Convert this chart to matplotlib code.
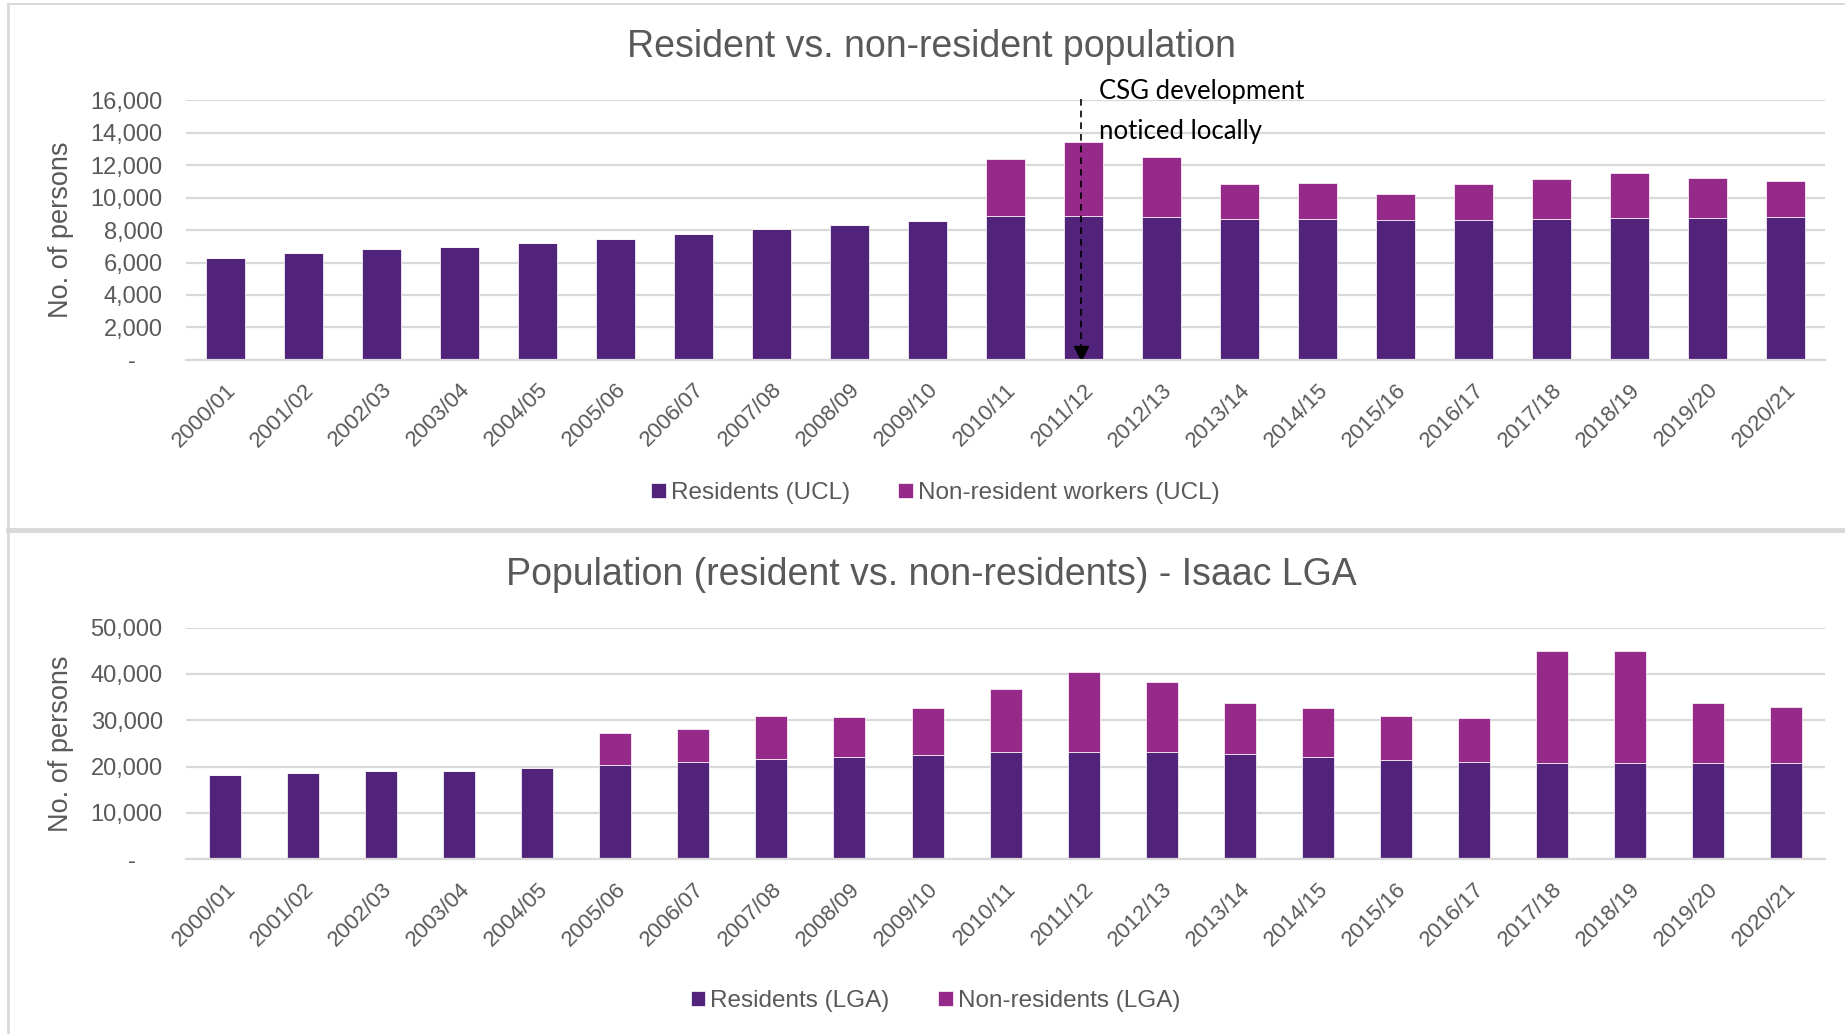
import numpy as np
import matplotlib.pyplot as plt
from matplotlib.lines import Line2D

years = ["2000/01", "2001/02", "2002/03", "2003/04", "2004/05", "2005/06", "2006/07",
         "2007/08", "2008/09", "2009/10", "2010/11", "2011/12", "2012/13", "2013/14",
         "2014/15", "2015/16", "2016/17", "2017/18", "2018/19", "2019/20", "2020/21"]

# top chart - UCL
res_ucl = [6300, 6560, 6810, 6930, 7180, 7450, 7730, 8060, 8330, 8530, 8840,
           8840, 8780, 8660, 8660, 8590, 8590, 8660, 8720, 8720, 8780]
nonres_ucl = [0, 0, 0, 0, 0, 0, 0, 0, 0, 0, 3550,
              4580, 3730, 2150, 2270, 1630, 2220, 2480, 2810, 2480, 2240]

# bottom chart - Isaac LGA
res_lga = [18170, 18530, 19040, 19110, 19690, 20350, 20930, 21580, 22090, 22530, 23180,
           23180, 23180, 22750, 22090, 21440, 21080, 20860, 20710, 20860, 20860]
nonres_lga = [0, 0, 0, 0, 0, 6980, 7270, 9310, 8650, 10030, 13520,
              17300, 15050, 11040, 10470, 9450, 9520, 24130, 24350, 12790, 12060]

c_res = "#51237a"
c_non = "#952a8a"
grey = "#595959"
grid_c = "#d9d9d9"

plt.rcParams['font.family'] = ['Liberation Sans', 'DejaVu Sans']

fig = plt.figure(figsize=(18.45, 10.34), dpi=100)
ax1 = fig.add_axes([0.101, 0.652, 0.888, 0.251])
ax2 = fig.add_axes([0.101, 0.169, 0.888, 0.224])

x = np.arange(len(years))


def fmt(v):
    return "-    " if v == 0 else f"{v:,.0f}"


def style(ax, ymax, step):
    ax.set_xlim(-0.5, len(years) - 0.5)
    ax.set_ylim(0, ymax)
    ticks = np.arange(0, ymax + 1, step)
    ax.set_yticks(ticks)
    ax.set_yticklabels([fmt(t) for t in ticks], fontsize=17, color=grey)
    ax.set_xticks(x)
    ax.set_xticklabels(years, rotation=45, ha="right", va="top", rotation_mode="anchor",
                       fontsize=16, color=grey)
    ax.tick_params(length=0, axis="y", pad=17)
    ax.tick_params(length=0, axis="x", pad=14)
    ax.grid(axis="y", color=grid_c, lw=1.6)
    ax.set_axisbelow(True)
    for s in ["top", "right", "left"]:
        ax.spines[s].set_visible(False)
    ax.spines["bottom"].set_color(grid_c)
    ax.spines["bottom"].set_linewidth(1.6)
    ax.set_ylabel("No. of persons", fontsize=19.5, color=grey, labelpad=12)


# top
ax1.bar(x, res_ucl, width=0.5, color=c_res, edgecolor="white", lw=0.5, label="Residents (UCL)")
ax1.bar(x, nonres_ucl, width=0.5, bottom=res_ucl, color=c_non, edgecolor="white", lw=0.5,
        label="Non-resident workers (UCL)")
style(ax1, 16000, 2000)

# CSG arrow
arr_x = 10.97
ax1.plot([arr_x, arr_x], [16100, 700], ls=(0, (4, 3)), color="black", lw=1.2, clip_on=False)
ax1.plot(arr_x, 450, marker="v", color="black", ms=10, clip_on=False)
ax1.text(11.2, 16550, "CSG development", fontsize=18.5, family="Lato", va="center", ha="left")
ax1.text(11.2, 14100, "noticed locally", fontsize=18.5, family="Lato", va="center", ha="left")

# bottom
ax2.bar(x, res_lga, width=0.41, color=c_res, edgecolor="white", lw=0.5, label="Residents (LGA)")
ax2.bar(x, nonres_lga, width=0.41, bottom=res_lga, color=c_non, edgecolor="white", lw=0.5,
        label="Non-residents (LGA)")
style(ax2, 50000, 10000)

fig.text(0.505, 0.9545, "Resident vs. non-resident population", fontsize=27, color=grey,
         ha="center", va="center")
fig.text(0.505, 0.444, "Population (resident vs. non-residents) - Isaac LGA", fontsize=27,
         color=grey, ha="center", va="center")

for ax, yy in [(ax1, 0.523), (ax2, 0.032)]:
    ax.legend(loc="center", bbox_to_anchor=(0.507, yy), bbox_transform=fig.transFigure,
              ncol=2, frameon=False, fontsize=17.5, labelcolor=grey, handlelength=0.6,
              handleheight=0.6, handletextpad=0.2, columnspacing=2.0)

# panel borders
fig.add_artist(Line2D([0.0045, 1], [0.9957, 0.9957], color="#d9d9d9", lw=1.5))
fig.add_artist(Line2D([0.0045, 0.0045], [0, 0.9957], color="#d9d9d9", lw=2))
fig.add_artist(Line2D([0.0045, 1], [0.4874, 0.4874], color="#d9d9d9", lw=3.5))

fig.savefig("out.png", dpi=100, facecolor="white")
